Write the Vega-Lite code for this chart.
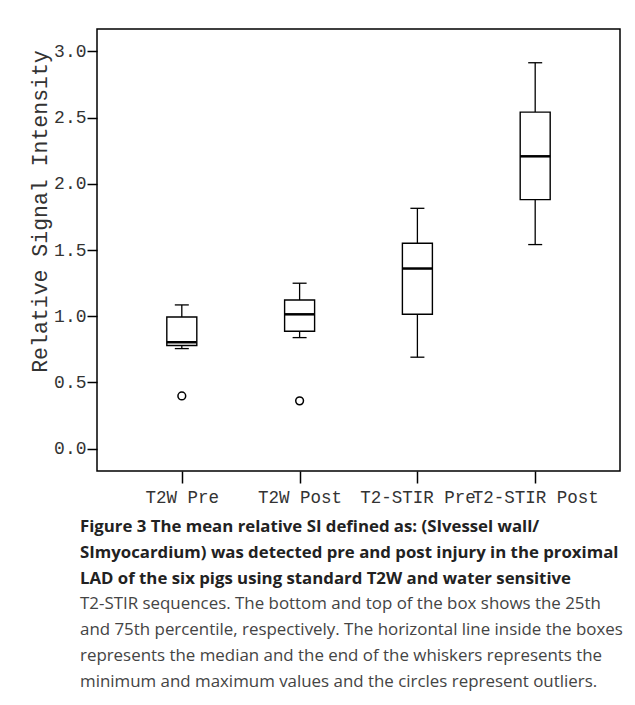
{
  "$schema": "https://vega.github.io/schema/vega-lite/v6.json",
  "autosize": "none",
  "width": 523,
  "height": 442,
  "padding": {"left": 97, "top": 29, "right": 15, "bottom": 234},
  "background": "white",
  "datasets": {
    "stats": [
      {"group": "T2W Pre", "lower": 0.755, "q1": 0.778, "median": 0.803, "q3": 0.994, "upper": 1.085},
      {"group": "T2W Post", "lower": 0.838, "q1": 0.886, "median": 1.014, "q3": 1.122, "upper": 1.249},
      {"group": "T2-STIR Pre", "lower": 0.69, "q1": 1.014, "median": 1.36, "q3": 1.551, "upper": 1.815},
      {"group": "T2-STIR Post", "lower": 1.541, "q1": 1.881, "median": 2.208, "q3": 2.542, "upper": 2.915}
    ],
    "outliers": [
      {"group": "T2W Pre", "value": 0.397},
      {"group": "T2W Post", "value": 0.36}
    ]
  },
  "title": {
    "text": [
      "Figure 3 The mean relative SI defined as: (SIvessel wall/",
      "SImyocardium) was detected pre and post injury in the proximal",
      "LAD of the six pigs using standard T2W and water sensitive"
    ],
    "subtitle": [
      "T2-STIR sequences. The bottom and top of the box shows the 25th",
      "and 75th percentile, respectively. The horizontal line inside the boxes",
      "represents the median and the end of the whiskers represents the",
      "minimum and maximum values and the circles represent outliers."
    ],
    "orient": "bottom",
    "anchor": "start",
    "frame": "group",
    "dx": -17,
    "offset": 13,
    "font": "Open Sans",
    "fontSize": 16.8,
    "fontWeight": "bold",
    "color": "#222222",
    "lineHeight": 26.2,
    "subtitleFont": "Open Sans",
    "subtitleFontSize": 16.9,
    "subtitleColor": "#444444",
    "subtitleLineHeight": 26.2,
    "subtitlePadding": 8
  },
  "config": {
    "view": {"stroke": "black", "strokeWidth": 1.5},
    "axis": {
      "grid": false,
      "domain": false,
      "tickColor": "black",
      "tickWidth": 1.5,
      "labelFont": "Liberation Mono",
      "labelColor": "#333333",
      "titleFont": "Liberation Mono",
      "titleFontWeight": "normal",
      "titleColor": "#333333"
    }
  },
  "encoding": {
    "x": {
      "field": "group",
      "type": "nominal",
      "sort": ["T2W Pre", "T2W Post", "T2-STIR Pre", "T2-STIR Post"],
      "scale": {"type": "point", "padding": 0.72},
      "axis": {
        "title": null,
        "labelAngle": 0,
        "tickSize": 12,
        "labelPadding": 5,
        "labelFontSize": 17.5,
        "labelOverlap": false,
        "labelBound": false,
        "labelFlush": false
      }
    }
  },
  "layer": [
    {
      "data": {"name": "stats"},
      "mark": {"type": "rule", "color": "black", "strokeWidth": 1.3},
      "encoding": {
        "y": {
          "field": "lower",
          "type": "quantitative",
          "title": "Relative Signal Intensity",
          "scale": {"domain": [-0.17, 3.17], "nice": false, "zero": false},
          "axis": {
            "values": [0, 0.5, 1, 1.5, 2, 2.5, 3],
            "format": ".1f",
            "tickSize": 10,
            "labelPadding": 1,
            "labelFontSize": 18,
            "titleFontSize": 21.5,
            "titleAngle": 270,
            "titleAlign": "center",
            "titleBaseline": "middle",
            "titleX": -57,
            "titleY": 182
          }
        },
        "y2": {"field": "upper"}
      }
    },
    {
      "data": {"name": "stats"},
      "mark": {"type": "bar", "width": 30, "fill": "white", "stroke": "black", "strokeWidth": 1.4},
      "encoding": {
        "y": {"field": "q1", "type": "quantitative", "title": "Relative Signal Intensity"},
        "y2": {"field": "q3"}
      }
    },
    {
      "data": {"name": "stats"},
      "mark": {"type": "tick", "orient": "horizontal", "size": 30, "thickness": 2.5, "color": "black", "opacity": 1},
      "encoding": {
        "y": {"field": "median", "type": "quantitative", "title": "Relative Signal Intensity"}
      }
    },
    {
      "data": {"name": "stats"},
      "mark": {"type": "tick", "orient": "horizontal", "size": 14, "thickness": 1.3, "color": "black", "opacity": 1},
      "encoding": {
        "y": {"field": "lower", "type": "quantitative", "title": "Relative Signal Intensity"}
      }
    },
    {
      "data": {"name": "stats"},
      "mark": {"type": "tick", "orient": "horizontal", "size": 14, "thickness": 1.3, "color": "black", "opacity": 1},
      "encoding": {
        "y": {"field": "upper", "type": "quantitative", "title": "Relative Signal Intensity"}
      }
    },
    {
      "data": {"name": "outliers"},
      "mark": {"type": "point", "shape": "circle", "filled": false, "size": 60, "stroke": "black", "strokeWidth": 1.5, "opacity": 1},
      "encoding": {
        "y": {"field": "value", "type": "quantitative", "title": "Relative Signal Intensity"}
      }
    }
  ]
}
